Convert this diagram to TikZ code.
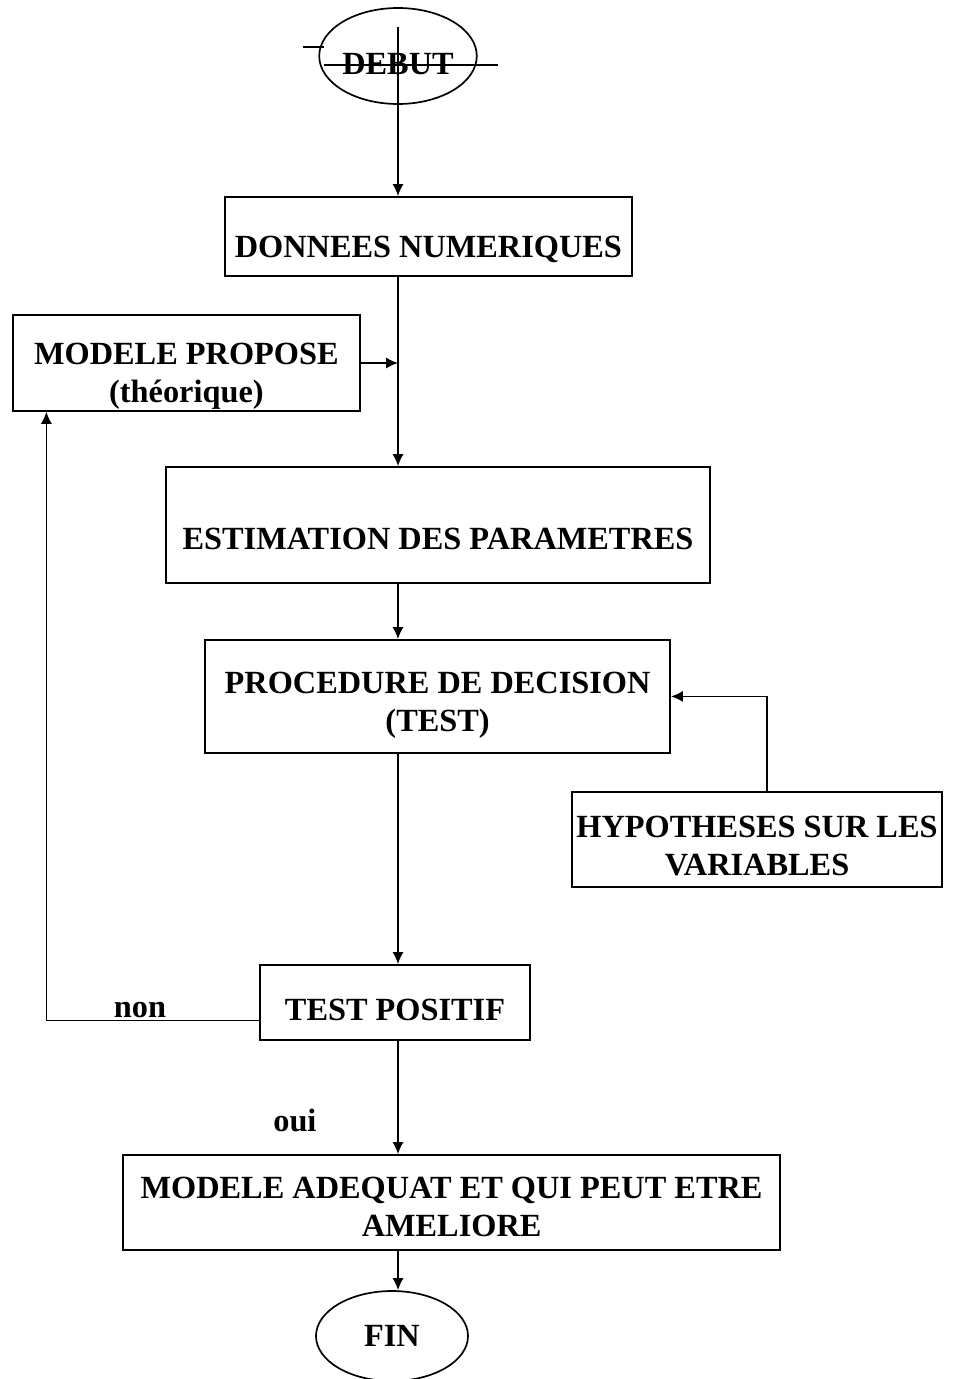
\documentclass[tikz,border=0pt]{standalone}
\usepackage{fontspec}
\setmainfont{Liberation Serif}
\usepackage{tikz}
\usetikzlibrary{shapes.geometric, arrows.meta, positioning}

\begin{document}
\begin{tikzpicture}[
    box/.style={rectangle, draw, line width=1.2pt, align=center, inner sep=2pt,
        font=\fontsize{23}{27}\selectfont\bfseries},
    term/.style={ellipse, draw, line width=1.2pt, inner sep=0pt,
        font=\fontsize{23}{27}\selectfont\bfseries},
    arr/.style={-{Latex[length=3mm, width=2.8mm]}, line width=1.2pt},
    lbl/.style={font=\fontsize{23}{27}\selectfont\bfseries}
]
    \useasboundingbox (0,0) rectangle (23.875,-34.475);

    % start / end
    \node[term, minimum width=3.9cm, minimum height=2.4cm, text height=0.95cm] (debut) at (9.95,-1.4) {DEBUT};
    \node[term, minimum width=3.8cm, minimum height=2.25cm] (fin) at (9.8,-33.4) {FIN};

    % boxes
    \node[box, minimum width=10.175cm, minimum height=1.975cm, text height=1.19cm] (donnees) at (10.71,-5.91) {DONNEES NUMERIQUES};
    \node[box, minimum width=8.675cm, minimum height=2.4cm, text height=2.16cm, inner ysep=0pt] (modele) at (4.66,-9.075) {MODELE PROPOSE\\(théorique)};
    \node[box, minimum width=13.6cm, minimum height=2.9cm, text height=1.23cm] (estim) at (10.95,-13.125) {ESTIMATION DES PARAMETRES};
    \node[box, minimum width=11.625cm, minimum height=2.825cm, text height=1.93cm] (proc) at (10.94,-17.41) {PROCEDURE DE DECISION\\(TEST)};
    \node[box, minimum width=9.25cm, minimum height=2.375cm, text height=1.81cm] (hypo) at (18.925,-20.99) {HYPOTHESES SUR LES\\VARIABLES};
    \node[box, minimum width=6.75cm, minimum height=1.875cm, text height=0.93cm] (test) at (9.875,-25.06) {TEST POSITIF};
    \node[box, minimum width=16.425cm, minimum height=2.375cm, text height=1.73cm] (adeq) at (11.29,-30.06) {MODELE ADEQUAT ET QUI PEUT ETRE\\AMELIORE};

    % main line
    \coordinate (spine) at (9.95,0);
    \draw[line width=1.2pt] (7.575,-1.175) -- (8.1,-1.175) (8.1,-1.625) -- (12.45,-1.625);
    \draw[arr] ([yshift=-0.5cm]debut.north) -- (spine |- donnees.north);
    \draw[arr] (spine |- donnees.south) -- (spine |- estim.north);
    \draw[arr] (modele.east) -- (spine |- modele.east);
    \draw[arr] (spine |- estim.south) -- (spine |- proc.north);
    \draw[arr] (spine |- proc.south) -- (spine |- test.north);
    \draw[arr] (spine |- test.south) -- node[lbl, left=1.9cm, pos=0.7] {oui} (spine |- adeq.north);
    \draw[arr] (spine |- adeq.south) -- (spine |- fin.north);

    % side loops
    \draw[arr] ([xshift=0.25cm]hypo.north) |- (proc.east);
    \draw[arr] ([yshift=-0.45cm]test.west) -| node[lbl, above=-2pt, pos=0.28] {non} ([xshift=-3.5cm]modele.south);
\end{tikzpicture}
\end{document}
